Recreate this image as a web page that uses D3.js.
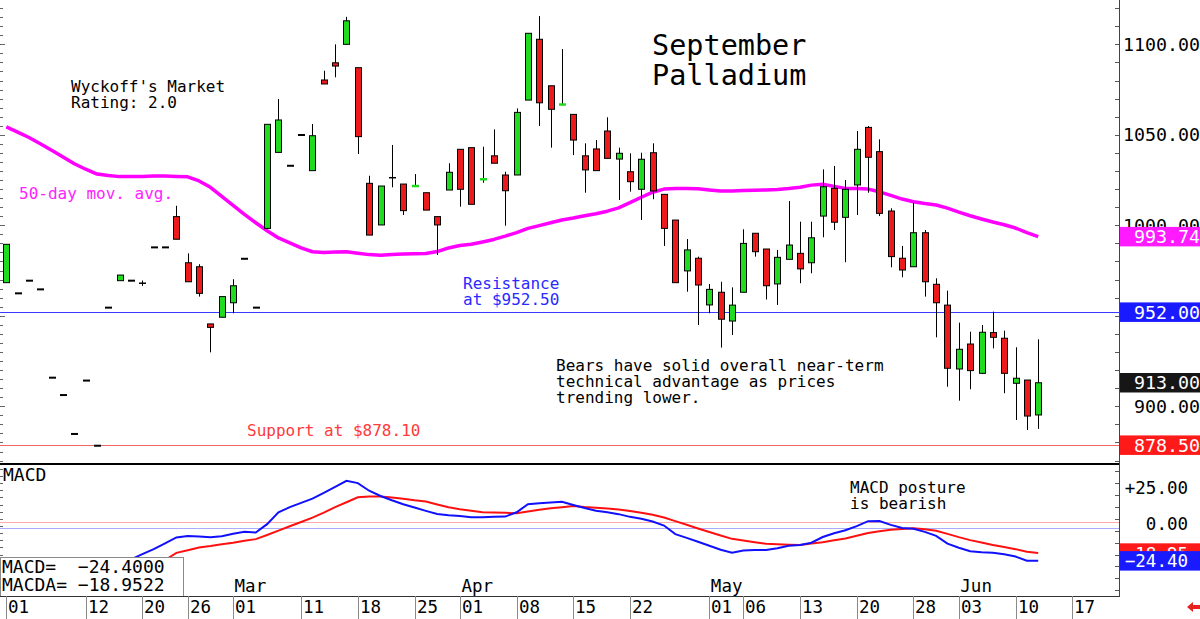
<!DOCTYPE html>
<html><head><meta charset="utf-8">
<script src="https://cdn.jsdelivr.net/npm/d3@7"></script>
<style>
body{margin:0;background:#fff}
svg{display:block}
text{font-family:"DejaVu Sans Mono",monospace}
</style>
</head><body>
<svg id="chart" width="1200" height="619"></svg>
<script>
// ---------- DATA ----------
const firstDay = "2024-02-01";
const lastDay = "2024-06-21";
const holidays = ["2024-02-19", "2024-03-29", "2024-05-27", "2024-06-19"];

const open = [968.3,962.4,969.4,964.6,915.8,906.2,884.7,914.2,878.2,954.5,
  969.4,969.4,968,987.8,987.8,1004.8,979.3,977.1,945.5,949.2,
  957.2,981.5,954.5,998.3,1040.3,1032.9,1049.9,1030.2,1080.3,1089.8,
  1100,1087.1,1023.2,1000.2,1026.3,1022.8,1021.5,1018,1004.8,1019.5,
  1042,1042.9,1025.3,1038.4,1027.8,1027.8,1069.2,1102.8,1077.1,1066.2,
  1061.3,1038.4,1042.2,1052.1,1036.6,1029.6,1019.9,1040.1,1017.1,1002.9,
  974.8,981.8,956,963,947.1,963,995.6,986.9,967.6,981.2,
  984.5,979.3,1005.1,1020.4,1004.4,1022.3,1054.1,1040.7,1007.9,981.8,
  977.1,995.9,967.4,955.9,920.6,934.4,918.2,940.7,937.6,912.7,
  914.5,895.2];
const high = [989.5,962.4,969.4,964.6,915.8,906.2,884.7,914.2,878.2,954.5,
  972.5,969.4,969.5,987.8,987.8,1010.8,984.5,978.5,945.5,960.6,
  970.2,981.5,954.5,1055.8,1069.8,1032.9,1049.9,1056,1085.4,1100,
  1115.2,1087.1,1027.4,1021.7,1044.4,1022.8,1028.3,1018,1004.8,1034.3,
  1042,1042.9,1043.4,1053,1029.6,1064.6,1106.1,1115.6,1077.1,1097.4,
  1061.3,1045.3,1047.1,1059.7,1042.9,1039.8,1040.1,1045.3,1017.1,1002.9,
  992.4,982.7,967.6,968.8,965.7,997.8,995.6,986.9,986.4,1013.4,
  1002,1002,1030.9,1032.8,1025,1052.1,1054.9,1047.5,1009.4,988.6,
  1012.5,997.4,970.7,963.9,946.2,941.2,944.9,952.3,941.8,932.6,
  914.5,937];
const low = [968.3,962.4,969.4,964.6,915.8,906.2,884.7,914.2,878.2,954.5,
  969.4,969.4,966.5,987.8,987.8,992.3,968.8,960.6,929.8,949.2,
  951.4,981.5,954.5,998.3,1040.3,1032.9,1049.9,1030.2,1078.1,1081.8,
  1100,1039.4,994.6,1000.2,1021,1005.7,1021.5,1008.4,983.6,1019.5,
  1010.3,1011.6,1023.5,1034.3,999.8,1027.8,1069.2,1054.9,1042.9,1066.2,
  1038.8,1018,1030.2,1037,1014,1018.6,1002.9,1014.4,988.6,968.3,
  963.3,944.9,951.4,932.4,939.4,963,982.7,959,956,981.2,
  968,973.5,993.4,997.4,979.6,1005.7,1018,1005.1,976.8,971.3,
  977.1,960.6,938.1,910.8,903.1,909.4,917.8,932,907.2,892.4,
  886.9,887.5];
const close = [989.5,962.4,969.4,964.6,915.8,906.2,884.7,914.2,878.2,954.5,
  972.5,969.4,968,987.8,987.8,992.3,968.8,962.4,943.6,960.6,
  966.6,981.5,954.5,1055.8,1058.2,1032.9,1049.9,1049.5,1078.1,1088,
  1113,1049,994.6,1021.7,1026.3,1008.1,1021.9,1008.4,1000.2,1029.3,
  1019.9,1011.6,1025.6,1034.3,1019.1,1062.4,1106.1,1067.7,1064.1,1067.3,
  1047.1,1030.6,1030.2,1037,1039.8,1024.1,1036.5,1019,998.3,968.3,
  986.4,967,964.6,948.1,955.9,990,985.4,966.6,982.3,989.1,
  975.9,993.1,1021.3,1001.7,1019.9,1042,1037.6,1006.6,982.7,975.3,
  995.9,968.8,957.2,921,931.5,919.7,940.9,938.1,918.2,915.5,
  894.6,913];

const ma50 = [1054.4,1051.5,1048.5,1045.1,1041.5,1037.8,1034,1031,1028.3,1027.5,
  1026.9,1026.9,1027,1027.2,1027.2,1027,1026.8,1024.5,1021,1016,
  1011,1006,1001.4,997,993,990.3,987.5,985.4,985,985.2,
  985.4,984.6,983.8,983.5,983.9,984.1,984.3,984.4,985.5,987.5,
  988.8,989.5,990.8,992.2,994,996,998.3,999.8,1001.4,1002.9,
  1004,1005.3,1006.4,1007.8,1009.6,1012.5,1015.5,1018.3,1020,1020.4,
  1020.4,1020.2,1019.5,1018.9,1019,1019.2,1019.4,1019.5,1019.8,1020.3,
  1021,1022.2,1022.7,1021.5,1020.4,1020.3,1020,1018.5,1016.5,1014.5,
  1013,1012,1011.2,1009.5,1007.3,1005.3,1003.5,1001.8,1000.3,998.5,
  996,993.74];

const macdStart = 10;
const macd = [-28.0,-23.3,-19.7,-16.2,-12.1,-8.0,-7.0,-7.3,-7.9,-7.1,
  -5.5,-4.1,-4.6,1.3,9.5,13.2,16.2,19.2,23.2,27.4,
  31.6,30.0,24.7,21.0,18.0,15.2,12.9,10.6,8.4,7.6,
  7.0,6.2,6.2,6.4,6.6,9.6,15.2,16.0,16.5,16.9,
  14.7,12.6,10.7,9.6,8.3,6.4,5.1,3.1,0.3,-5.7,
  -8.3,-11.0,-13.8,-16.6,-18.7,-17.1,-16.8,-16.8,-15.5,-13.9,
  -13.3,-11.7,-7.7,-5.1,-3.0,-0.1,3.4,3.5,0.8,-1.4,
  -2.0,-4.1,-6.9,-12.3,-15.2,-17.6,-18.3,-18.7,-19.8,-21.4,
  -24.3,-24.4];
const signalStart = 13;
const signal = [-28.0,-23.8,-18.8,-17.0,-15.0,-14.0,-12.8,-11.7,-10.4,-9.2,
  -6.3,-3.2,-0.2,2.8,5.9,9.4,13.2,16.6,20.1,20.6,
  20.6,19.9,19.1,18.0,17.1,15.1,13.1,11.8,10.7,9.6,
  9.4,9.2,8.9,10.1,11.3,12.4,13.2,14.0,13.3,12.8,
  12.2,11.6,10.5,9.3,7.9,5.9,3.4,0.9,-1.7,-4.2,
  -6.6,-9.0,-10.2,-11.4,-12.5,-12.8,-13.1,-13.3,-12.3,-11.3,
  -10.0,-8.7,-6.8,-4.9,-3.6,-2.7,-2.1,-1.6,-2.2,-3.3,
  -5.5,-7.8,-9.9,-11.6,-13.3,-14.7,-16.2,-18.0,-18.95];

const tickDates = ["2024-02-01","2024-02-12","2024-02-20","2024-02-26","2024-03-01",
  "2024-03-11","2024-03-18","2024-03-25","2024-04-01","2024-04-08","2024-04-15",
  "2024-04-22","2024-05-01","2024-05-06","2024-05-13","2024-05-20","2024-05-28",
  "2024-06-03","2024-06-10","2024-06-17"];
const monthDates = ["2024-03-01","2024-04-01","2024-05-01","2024-06-03"];
const monthNames = ["Mar","Apr","May","Jun"];
const priceTicks = [900, 1000, 1050, 1100];
const macdTicks = [0, 25];
const macdRefValues = [2.6, -1.6];
const resistanceLevel = 952.0;
const supportLevel = 878.5;
const lastClose = 913.00;
const lastMA = 993.74;
const lastMacd = -24.40;
const lastSignal = -18.95;

// ---------- SETUP ----------
const svg = d3.select("#chart");
svg.append("rect").attr("width",1200).attr("height",619).attr("fill","#fff");

const parse = d3.utcParse("%Y-%m-%d"), fmt = d3.utcFormat("%Y-%m-%d");
const days = d3.utcDay.range(parse(firstDay), d3.utcDay.offset(parse(lastDay),1))
  .filter(d => d.getUTCDay() % 6 !== 0 && !holidays.includes(fmt(d))).map(fmt);
const dayIndex = new Map(days.map((d,i)=>[d,i]));

const AX = 1119;           // right axis x
const MAIN_BOTTOM = 464, MACD_BOTTOM = 596;
const x = d3.scaleLinear().domain([0, 91]).range([6.3, 1038.2]);
const y = d3.scaleLinear().domain([868.1, 1124.5]).range([MAIN_BOTTOM, 0]);
const ym = d3.scaleLinear().domain([-49, 43.4]).range([MACD_BOTTOM, MAIN_BOTTOM]);

const defs = svg.append("defs");
defs.append("clipPath").attr("id","clipMain").append("rect").attr("x",0).attr("y",0).attr("width",AX).attr("height",MAIN_BOTTOM);
defs.append("clipPath").attr("id","clipMacd").append("rect").attr("x",0).attr("y",MAIN_BOTTOM).attr("width",AX).attr("height",MACD_BOTTOM-MAIN_BOTTOM);

const GREEN = "#1fdc1f", RED = "#ec1a1a";

// ---------- MAIN PANEL ----------
const main = svg.append("g").attr("clip-path","url(#clipMain)");

// left edge ticks
d3.range(870, 1125, 5).forEach(v => {
  main.append("line").attr("x1",0).attr("x2", v%50===0?5:3)
    .attr("y1", Math.round(y(v))+0.5).attr("y2", Math.round(y(v))+0.5)
    .attr("stroke","#666").attr("stroke-width",1);
});

// resistance & support lines
main.append("line").attr("x1",0).attr("x2",AX).attr("y1",Math.round(y(resistanceLevel))+0.5).attr("y2",Math.round(y(resistanceLevel))+0.5)
  .attr("stroke","#3a3aff").attr("stroke-width",1);
main.append("line").attr("x1",0).attr("x2",AX).attr("y1",Math.round(y(supportLevel))+0.5).attr("y2",Math.round(y(supportLevel))+0.5)
  .attr("stroke","#f06464").attr("stroke-width",1);

// moving average
main.append("path").datum(ma50)
  .attr("d", d3.line().x((d,i)=>x(i)).y(d=>y(d)))
  .attr("fill","none").attr("stroke","#ff00ff").attr("stroke-width",3.5).attr("stroke-linejoin","round");

// candles
const candles = main.append("g");
open.forEach((o,i) => {
  const c = close[i], h = high[i], l = low[i];
  const cx = Math.round(x(i)) + 0.5;
  if (o === c && h === l) {
    candles.append("line").attr("x1",cx-3.5).attr("x2",cx+3.5).attr("y1",y(c)).attr("y2",y(c))
      .attr("stroke","#000").attr("stroke-width",2);
    return;
  }
  candles.append("line").attr("x1",cx).attr("x2",cx).attr("y1",y(h)).attr("y2",y(l))
    .attr("stroke","#000").attr("stroke-width",1);
  if (o === c) {
    candles.append("line").attr("x1",cx-3.5).attr("x2",cx+3.5).attr("y1",y(c)).attr("y2",y(c))
      .attr("stroke","#000").attr("stroke-width",1.5);
    return;
  }
  const top = y(Math.max(o,c)), bot = y(Math.min(o,c));
  const col = c > o ? GREEN : RED;
  if (bot - top < 2.5) {
    candles.append("rect").attr("x",cx-3.5).attr("y",(top+bot)/2-1.25).attr("width",7).attr("height",2.5)
      .attr("fill",col);
  } else {
    candles.append("rect").attr("x",cx-3).attr("y",top).attr("width",6).attr("height",bot-top)
      .attr("fill",col).attr("stroke","#000").attr("stroke-width",1);
  }
});

// annotations (main)
function txt(g, s, tx, ty, size, color, anchor) {
  return g.append("text").attr("x",tx).attr("y",ty).attr("font-size",size)
    .attr("fill",color||"#000").attr("text-anchor",anchor||"start").attr("xml:space","preserve").text(s);
}
txt(svg,"September",652,55,28.5);
txt(svg,"Palladium",652,85,28.5);
txt(svg,"Wyckoff's Market",71,91.5,16);
txt(svg,"Rating: 2.0",71,107.5,16);
txt(svg,"50-day mov. avg.",19,198.5,16,"#ff22ff");
txt(svg,"Resistance",463,288.5,16,"#2a2aff");
txt(svg,"at $952.50",463,304.5,16,"#2a2aff");
txt(svg,"Bears have solid overall near-term",556,371,16);
txt(svg,"technical advantage as prices",556,387,16);
txt(svg,"trending lower.",556,403,16);
txt(svg,"Support at $878.10",247,435.5,16,"#ff3a3a");

// ---------- MACD PANEL ----------
const mp = svg.append("g").attr("clip-path","url(#clipMacd)");
d3.range(-45, 45, 5).forEach(v => {
  mp.append("line").attr("x1",0).attr("x2",3).attr("y1",Math.round(ym(v))+0.5).attr("y2",Math.round(ym(v))+0.5)
    .attr("stroke","#666");
});
mp.append("line").attr("x1",0).attr("x2",AX).attr("y1",Math.round(ym(macdRefValues[0]))+0.5).attr("y2",Math.round(ym(macdRefValues[0]))+0.5)
  .attr("stroke","#ffaaaa").attr("stroke-width",1);
mp.append("line").attr("x1",0).attr("x2",AX).attr("y1",Math.round(ym(macdRefValues[1]))+0.5).attr("y2",Math.round(ym(macdRefValues[1]))+0.5)
  .attr("stroke","#aaaaff").attr("stroke-width",1);
mp.append("path").datum(signal)
  .attr("d", d3.line().x((d,i)=>x(i+signalStart)).y(d=>ym(d)))
  .attr("fill","none").attr("stroke","#ff1010").attr("stroke-width",2);
mp.append("path").datum(macd)
  .attr("d", d3.line().x((d,i)=>x(i+macdStart)).y(d=>ym(d)))
  .attr("fill","none").attr("stroke","#1010ff").attr("stroke-width",2);

txt(svg,"MACD",3,481,18);
txt(svg,"MACD posture",850,492.5,16);
txt(svg,"is bearish",850,508.5,16);

// MACD value box (bottom-left)
svg.append("rect").attr("x",0.5).attr("y",557.5).attr("width",183).attr("height",39)
  .attr("fill","#fff").attr("stroke","#8a8a8a").attr("stroke-width",1);
const f4 = d3.format(".4f");
txt(svg,"MACD=  " + f4(lastMacd),2,572.5,18);
txt(svg,"MACDA= " + f4(-18.9522),2,591,18);

// month labels
monthDates.forEach((d,k) => txt(svg, monthNames[k], x(dayIndex.get(d))+1.5, 592, 17.5));

// ---------- FRAME LINES ----------
svg.append("line").attr("x1",0).attr("x2",AX).attr("y1",MAIN_BOTTOM).attr("y2",MAIN_BOTTOM).attr("stroke","#000").attr("stroke-width",2);
svg.append("line").attr("x1",0).attr("x2",AX).attr("y1",MACD_BOTTOM+0.5).attr("y2",MACD_BOTTOM+0.5).attr("stroke","#333").attr("stroke-width",1);
svg.append("line").attr("x1",AX+0.5).attr("x2",AX+0.5).attr("y1",0).attr("y2",MACD_BOTTOM+1).attr("stroke","#444").attr("stroke-width",1);

// date axis
tickDates.forEach(d => {
  const i = dayIndex.get(d);
  const xx = Math.round(x(i)) + 0.5;
  svg.append("line").attr("x1",xx).attr("x2",xx).attr("y1",MACD_BOTTOM).attr("y2",619).attr("stroke","#8a8a8a").attr("stroke-width",1);
  txt(svg, d3.utcFormat("%d")(parse(d)), xx+1.5, 613, 17.5);
});

// right price axis ticks & labels
d3.range(870, 1125, 10).forEach(v => {
  svg.append("line").attr("x1",AX-4).attr("x2",AX).attr("y1",Math.round(y(v))+0.5).attr("y2",Math.round(y(v))+0.5).attr("stroke","#555");
});
const f2 = d3.format(".2f");
priceTicks.forEach(v => txt(svg, f2(v), 1200, y(v)+6.5, 18.3, "#000", "end"));

// value boxes (price)
function valBox(v, scale, fill, label, right, h, size) {
  const cy = scale(v);
  svg.append("rect").attr("x",AX+1).attr("y",cy-h/2).attr("width",1200-AX-1).attr("height",h).attr("fill",fill);
  txt(svg, label, right, cy+6.5, size, "#fff", "end");
}
valBox(lastMA, y, "#ff1aff", f2(lastMA), 1200, 19.5, 18.3);
valBox(resistanceLevel, y, "#1a1aff", f2(resistanceLevel), 1200, 19.5, 18.3);
valBox(lastClose, y, "#161616", f2(lastClose), 1200, 19.5, 18.3);
valBox(supportLevel, y, "#ff1a1a", f2(supportLevel), 1200, 19.5, 18.3);

// right MACD axis
d3.range(-45, 44, 25/3).forEach(v => {
  svg.append("line").attr("x1",AX-4).attr("x2",AX).attr("y1",Math.round(ym(v))+0.5).attr("y2",Math.round(ym(v))+0.5).attr("stroke","#555");
});
macdTicks.forEach(v => txt(svg, (v>0?"+":"") + f2(v), 1188, ym(v)+3.5, 17.5, "#000", "end"));
valBox(lastSignal, ym, "#ff1a1a", f2(lastSignal), 1188, 19.5, 17.5);
valBox(lastMacd, ym, "#1a1aff", f2(lastMacd), 1188, 19.5, 17.5);

// red arrow (bottom right)
svg.append("path").attr("d","M1187,607 L1193,602 L1193,605 L1200,605 L1200,609 L1193,609 L1193,612 Z").attr("fill","#e82020");
</script>
</body></html>
